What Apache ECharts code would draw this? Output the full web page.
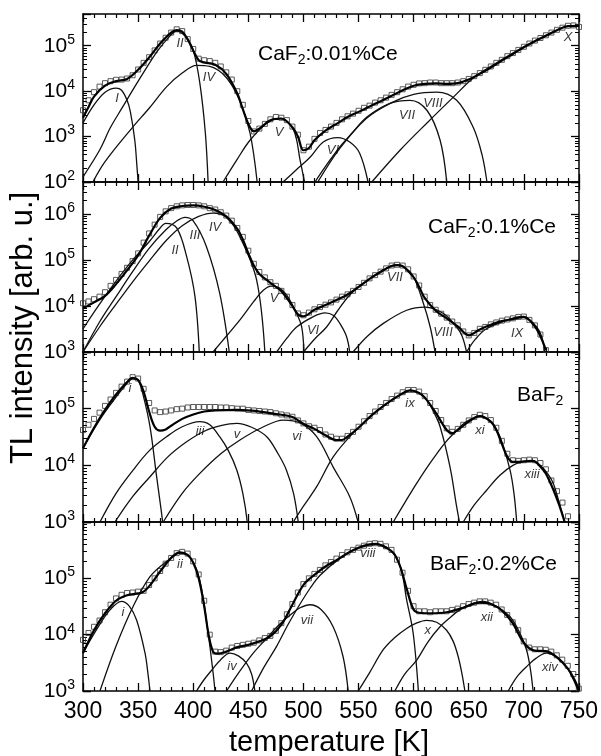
<!DOCTYPE html>
<html>
<head>
<meta charset="utf-8">
<script src="https://cdn.jsdelivr.net/npm/echarts@6/dist/echarts.min.js"></script>
<style>
  html, body { margin: 0; padding: 0; background: #fff; }
  #main { width: 601px; height: 756px; }
</style>
</head>
<body>
<div id="main"></div>
<script>
// ---- panel 1: CaF2:0.01%Ce ----
const p1Meas = [[300,3.8e3],[305,6.3e3],[310,9.5e3],[315,1.26e4],[320,1.5e4],[325,1.66e4],[330,1.78e4],[335,1.8e4],[340,1.9e4],[345,2.24e4],[350,3.0e4],[355,4.2e4],[360,5.6e4],[365,7.9e4],[370,1.12e5],[375,1.5e5],[380,1.95e5],[385,2.3e5],[390,2.1e5],[395,1.4e5],[400,8.5e4],[405,5.2e4],[410,4.8e4],[415,4.6e4],[420,4.2e4],[425,3.5e4],[430,2.6e4],[435,1.8e4],[440,1.0e4],[445,5.0e3],[450,2.2e3],[455,1.3e3],[460,1.5e3],[465,1.9e3],[470,2.4e3],[475,2.7e3],[480,2.6e3],[485,2.3e3],[490,1.66e3],[495,1.1e3],[500,5.0e2],[505,6.0e2],[510,8.9e2],[515,1.2e3],[520,1.4e3],[525,1.66e3],[530,2.0e3],[535,2.4e3],[540,2.8e3],[545,3.2e3],[550,3.7e3],[555,4.3e3],[560,4.8e3],[565,5.6e3],[570,6.3e3],[575,7.2e3],[580,8.3e3],[585,9.5e3],[590,1.1e4],[595,1.26e4],[600,1.38e4],[605,1.48e4],[610,1.5e4],[615,1.55e4],[620,1.55e4],[625,1.5e4],[630,1.5e4],[635,1.5e4],[640,1.55e4],[645,1.66e4],[650,1.86e4],[655,2.14e4],[660,2.5e4],[665,2.95e4],[670,3.5e4],[675,4.2e4],[680,4.9e4],[685,5.9e4],[690,6.9e4],[695,8.1e4],[700,9.5e4],[705,1.12e5],[710,1.3e5],[715,1.48e5],[720,1.7e5],[725,1.95e5],[730,2.24e5],[735,2.5e5],[740,2.75e5],[745,2.8e5],[750,2.6e5]];
const p1Fit = [[300,2.6e3],[305,4.5e3],[310,7.6e3],[320,1.32e4],[330,1.66e4],[340,1.86e4],[350,2.95e4],[360,5.5e4],[370,1.12e5],[380,1.95e5],[385,2.2e5],[390,2.05e5],[395,1.38e5],[400,7.9e4],[405,4.8e4],[410,4.3e4],[420,3.8e4],[430,2.4e4],[440,8.9e3],[445,4.0e3],[450,1.9e3],[455,1.3e3],[460,1.5e3],[470,2.3e3],[480,2.5e3],[490,1.6e3],[495,1.0e3],[500,5.0e2],[505,5.6e2],[510,8.3e2],[520,1.35e3],[530,1.9e3],[540,2.7e3],[550,3.5e3],[560,4.6e3],[570,6.0e3],[580,7.9e3],[590,1.05e4],[600,1.32e4],[610,1.45e4],[620,1.48e4],[630,1.45e4],[640,1.5e4],[650,1.8e4],[660,2.4e4],[670,3.3e4],[680,4.7e4],[690,6.6e4],[700,9.3e4],[710,1.26e5],[720,1.66e5],[730,2.2e5],[740,2.7e5],[750,2.75e5]];
const p1I = [[300,2.0e3],[310,5.0e3],[320,9.5e3],[330,1.17e4],[335,1.05e4],[340,6.3e3],[343,3.5e3],[347,8.3e2],[349,2.1e2],[350,100]];
const p1II = [[300,130],[315,5.0e2],[325,1.6e3],[336,4.5e3],[347,1.26e4],[358,3.4e4],[368,7.9e4],[377,1.45e5],[385,2.1e5],[393,1.6e5],[400,7.9e4],[406,1.5e4],[411,1.2e3],[413.5,100]];
const p1IV = [[309,100],[320,2.8e2],[345,1.6e3],[360,4.2e3],[376,1.26e4],[390,2.5e4],[403,3.7e4],[415,3.5e4],[430,2.0e4],[442,6.3e3],[451.5,1.2e3],[458,100]];
const p1V = [[427,100],[440,3.2e2],[451.5,8.3e2],[467,2.0e3],[479,2.5e3],[491,1.4e3],[497,3.0e2],[501,100]];
const p1VI = [[481.5,100],[495,2.0e2],[506,3.5e2],[518,7.6e2],[531,9.5e2],[542,7.6e2],[551,4.3e2],[558.6,100]];
const p1VII = [[510.5,100],[520,2.2e2],[533,5.9e2],[545,1.26e3],[557.6,2.7e3],[578.5,5.4e3],[596.7,6.3e3],[612,3.8e3],[624,8.3e2],[630,100]];
const p1VIII = [[513,100],[533,5.5e2],[557,2.5e3],[580,5.6e3],[600,8.5e3],[621,9.5e3],[639,6.3e3],[654,1.6e3],[662,4.0e2],[666.5,100]];
const p1X = [[562,100],[587.6,5.0e2],[613,2.1e3],[636,7.4e3],[654,1.95e4],[669,3.4e4],[690,6.9e4],[708,1.2e5],[726,2.0e5],[742,2.75e5],[750,2.75e5]];
const p1Labels = [[330.8,7.1e3,'I'],[388,1.12e5,'II'],[414.3,2.0e4,'IV'],[477.8,1.26e3,'V'],[526.8,5.0e2,'VI'],[594,3.0e3,'VII'],[617.5,5.5e3,'VIII'],[740,1.55e5,'X']];

// ---- panel 2: CaF2:0.1%Ce ----
const p2Meas = [[300,1.15e4],[305,1.26e4],[310,1.41e4],[315,1.6e4],[320,2.0e4],[325,2.75e4],[330,3.7e4],[335,5.0e4],[340,6.8e4],[345,9.5e4],[350,1.4e5],[355,2.4e5],[360,3.8e5],[365,5.9e5],[370,8.7e5],[375,1.15e6],[380,1.35e6],[385,1.48e6],[390,1.55e6],[395,1.58e6],[400,1.58e6],[405,1.55e6],[410,1.48e6],[415,1.35e6],[420,1.26e6],[425,1.1e6],[430,9.3e5],[435,7.2e5],[440,5.0e5],[445,3.2e5],[450,1.6e5],[455,8.3e4],[460,5.5e4],[465,4.2e4],[470,3.3e4],[475,2.75e4],[480,2.14e4],[485,1.6e4],[490,1.05e4],[495,6.9e3],[500,6.3e3],[505,7.2e3],[510,8.5e3],[515,9.5e3],[520,1.07e4],[525,1.2e4],[530,1.38e4],[535,1.6e4],[540,1.8e4],[545,2.14e4],[550,2.6e4],[555,3.2e4],[560,4.0e4],[565,4.7e4],[570,5.6e4],[575,6.6e4],[580,7.6e4],[585,7.9e4],[590,7.6e4],[595,6.3e4],[600,4.4e4],[605,2.8e4],[610,1.6e4],[615,1.05e4],[620,8.3e3],[625,6.8e3],[630,5.6e3],[635,4.6e3],[640,3.8e3],[645,2.8e3],[650,2.3e3],[655,2.6e3],[660,3.2e3],[665,3.5e3],[670,4.0e3],[675,4.4e3],[680,4.8e3],[685,5.1e3],[690,5.4e3],[695,5.8e3],[700,5.9e3],[705,5.0e3],[710,3.8e3],[715,2.4e3],[720,1.1e3]];
const p2Fit = [[300,8.9e3],[310,1.2e4],[320,1.66e4],[330,3.0e4],[340,6.0e4],[350,1.26e5],[360,3.4e5],[370,8.3e5],[380,1.32e6],[390,1.5e6],[400,1.55e6],[410,1.45e6],[420,1.23e6],[430,8.9e5],[440,4.8e5],[445,2.8e5],[450,1.4e5],[455,7.6e4],[460,5.0e4],[470,3.2e4],[480,2.1e4],[490,1.0e4],[495,6.6e3],[500,6.0e3],[510,8.3e3],[520,1.05e4],[530,1.35e4],[540,1.78e4],[550,2.6e4],[560,3.9e4],[570,5.5e4],[580,7.4e4],[585,7.8e4],[590,7.4e4],[600,4.2e4],[605,2.6e4],[610,1.5e4],[620,7.9e3],[630,5.4e3],[640,3.6e3],[650,2.3e3],[660,3.1e3],[670,3.9e3],[680,4.7e3],[690,5.2e3],[700,5.8e3],[710,3.6e3],[715,2.2e3],[720,1.1e3]];
const p2II = [[300,3.2e3],[315,1.1e4],[330,3.5e4],[345,1.0e5],[360,2.5e5],[370,5.0e5],[375,6.3e5],[385,5.0e5],[394,1.2e5],[401.6,1.6e4],[405.5,1000]];
const p2III = [[300,1000],[315,4.5e3],[330,1.6e4],[345,5.6e4],[360,1.8e5],[375,4.5e5],[385,7.1e5],[392.5,8.5e5],[400,7.1e5],[412,1.95e5],[424,1.9e4],[432.7,1000]];
const p2IV = [[300,1000],[315,3.5e3],[330,1.1e4],[345.6,3.5e4],[360,9.5e4],[375.7,2.7e5],[390,5.6e5],[405,8.9e5],[418,1.05e6],[430,8.5e5],[442.4,3.2e5],[457.5,3.7e4],[465,1000]];
const p2V = [[418,1000],[430,2.2e3],[442.4,5.0e3],[455,1.26e4],[463.6,2.2e4],[471,2.7e4],[478,2.5e4],[484.7,1.74e4],[493.8,6.9e3],[498.4,3.5e3],[500.5,1000]];
const p2VI = [[475.7,1000],[485,2.0e3],[493.8,3.5e3],[509,5.9e3],[519.6,7.1e3],[527,6.3e3],[533,4.2e3],[539,2.2e3],[542,1000]];
const p2VII = [[500,1000],[510,1.9e3],[521,3.5e3],[531,7.9e3],[542,1.74e4],[553,2.9e4],[563,4.4e4],[573,6.3e4],[583,7.8e4],[591,7.1e4],[599.7,4.4e4],[608.8,1.15e4],[615,3.5e3],[619.4,1000]];
const p2VIII = [[545,1000],[558,2.2e3],[572.5,4.2e3],[593.7,8.1e3],[610.3,9.5e3],[627,6.9e3],[639,3.5e3],[644,2.2e3],[648,1000]];
const p2IX = [[648,1000],[656,1.9e3],[666,3.2e3],[684.5,4.9e3],[696.5,5.9e3],[704,5.2e3],[711.6,3.5e3],[716,2.2e3],[719,1000]];
const p2Labels = [[383.5,1.66e5,'II'],[401.6,3.5e5,'III'],[419.8,5.2e5,'IV'],[473.3,1.5e4,'V'],[508.7,3.0e3,'VI'],[583,4.1e4,'VII'],[626.6,2.7e3,'VIII'],[693.8,2.6e3,'IX']];

// ---- panel 3: BaF2 ----
const p3Meas = [[300,4.2e4],[305,5.2e4],[310,6.6e4],[315,8.5e4],[320,1.12e5],[325,1.45e5],[330,1.9e5],[335,2.45e5],[340,3.0e5],[345,3.6e5],[350,3.4e5],[355,2.24e5],[360,1.26e5],[365,9.3e4],[370,8.7e4],[375,8.9e4],[380,9.3e4],[385,9.8e4],[390,1.0e5],[395,1.05e5],[400,1.07e5],[405,1.07e5],[410,1.07e5],[415,1.07e5],[420,1.07e5],[425,1.05e5],[430,1.05e5],[435,1.02e5],[440,1.0e5],[445,1.0e5],[450,9.5e4],[455,9.3e4],[460,9.1e4],[465,8.9e4],[470,8.7e4],[475,8.3e4],[480,7.9e4],[485,7.6e4],[490,7.2e4],[495,6.2e4],[500,5.5e4],[505,4.9e4],[510,4.6e4],[515,4.2e4],[520,3.5e4],[525,3.2e4],[530,2.95e4],[535,2.95e4],[540,3.3e4],[545,3.9e4],[550,4.8e4],[555,6.0e4],[560,7.4e4],[565,8.9e4],[570,1.07e5],[575,1.26e5],[580,1.48e5],[585,1.7e5],[590,1.95e5],[595,2.14e5],[600,2.14e5],[605,2.0e5],[610,1.66e5],[615,1.26e5],[620,9.1e4],[625,6.3e4],[630,4.5e4],[635,3.9e4],[640,4.4e4],[645,5.2e4],[650,6.2e4],[655,7.1e4],[660,7.8e4],[665,7.4e4],[670,6.3e4],[675,4.6e4],[680,2.7e4],[685,1.6e4],[690,1.23e4],[695,1.2e4],[700,1.23e4],[705,1.26e4],[710,1.23e4],[715,1.1e4],[720,8.5e3],[725,5.4e3],[730,3.5e3],[735,2.2e3],[740,1.26e3]];
const p3Fit = [[300,2.0e4],[310,4.6e4],[320,9.5e4],[330,1.78e5],[340,2.95e5],[345,3.5e5],[350,3.2e5],[355,2.0e5],[360,8.9e4],[365,4.8e4],[370,4.1e4],[375,4.3e4],[380,5.0e4],[390,6.6e4],[400,7.9e4],[410,8.9e4],[420,9.3e4],[440,9.5e4],[460,8.9e4],[480,7.8e4],[490,7.1e4],[500,5.4e4],[510,4.4e4],[520,3.4e4],[530,2.8e4],[535,2.8e4],[540,3.2e4],[550,4.6e4],[560,7.1e4],[570,1.02e5],[580,1.41e5],[590,1.86e5],[597,2.1e5],[605,1.9e5],[610,1.58e5],[620,8.5e4],[630,4.2e4],[635,3.7e4],[640,4.2e4],[650,5.9e4],[660,7.4e4],[670,5.9e4],[675,4.2e4],[680,2.4e4],[685,1.41e4],[690,1.15e4],[700,1.17e4],[708,1.2e4],[715,9.5e3],[720,7.1e3],[727,3.6e3],[732,2.0e3],[737,1000]];
const p3i = [[300,2.0e4],[315,6.3e4],[330,1.6e5],[340,2.8e5],[345,3.4e5],[350,3.2e5],[355,1.6e5],[360.8,4.8e4],[366.8,6.3e3],[370,2.2e3],[372.3,1000]];
const p3iii = [[315.4,1000],[330,3.2e3],[345.6,8.3e3],[360,1.8e4],[375.9,3.2e4],[390,4.8e4],[406,5.9e4],[415,5.2e4],[424,3.2e4],[432,1.8e4],[439.5,8.3e3],[445,3.2e3],[449,1000]];
const p3v = [[329,1000],[345,2.8e3],[360.8,6.3e3],[377,1.41e4],[394,2.6e4],[410,4.0e4],[425,5.0e4],[439.5,5.5e4],[453,4.7e4],[466.7,3.2e4],[477,1.6e4],[484.5,8.3e3],[491,3.2e3],[495.3,1000]];
const p3vi = [[372.8,1000],[390,3.2e3],[406,7.2e3],[425,1.6e4],[442.4,2.8e4],[462,4.6e4],[481.7,6.3e4],[497,5.6e4],[512,3.2e4],[527,9.3e3],[542,2.8e3],[549.6,1000]];
const p3ix = [[490.8,1000],[500,1.9e3],[512,4.2e3],[527,1.41e4],[545,3.7e4],[563,7.9e4],[581.5,1.48e5],[596.7,2.1e5],[605,1.86e5],[611.8,1.41e5],[618,8.9e4],[624,4.8e4],[633,9.3e3],[639,1.86e3],[641.5,1000]];
const p3xi = [[581.5,1000],[592,2.2e3],[602.7,4.8e3],[615,1.1e4],[627,2.3e4],[636,3.6e4],[648,5.9e4],[660,7.4e4],[670,5.9e4],[678.3,3.2e4],[687.4,8.3e3],[691,3.2e3],[693.5,1000]];
const p3xiii = [[645,1000],[655,2.0e3],[666,3.6e3],[678,6.6e3],[690,1.0e4],[700,1.17e4],[708.3,1.2e4],[716,9.5e3],[722,6.9e3],[726.7,4.8e3],[732,2.2e3],[737,1000]];
const p3Labels = [[342.6,2.3e5,'i'],[406.2,3.9e4,'iii'],[439.7,3.5e4,'v'],[494.2,3.2e4,'vi'],[596.7,1.26e5,'ix'],[660.2,4.2e4,'xi'],[707.4,6.8e3,'xiii']];

// ---- panel 4: BaF2:0.2%Ce ----
const p4Meas = [[300,8.1e3],[305,1.07e4],[310,1.38e4],[315,1.78e4],[320,2.5e4],[325,3.4e4],[330,4.4e4],[335,5.1e4],[340,5.5e4],[345,5.6e4],[350,5.8e4],[355,6.0e4],[360,7.6e4],[365,1.0e5],[370,1.35e5],[375,1.82e5],[380,2.3e5],[385,2.8e5],[390,2.95e5],[395,2.75e5],[400,2.0e5],[405,1.17e5],[410,4.0e4],[415,1.0e4],[420,5.0e3],[425,4.9e3],[430,5.2e3],[435,5.9e3],[440,6.3e3],[445,6.6e3],[450,6.9e3],[455,7.2e3],[460,7.9e3],[465,8.7e3],[470,9.5e3],[475,1.17e4],[480,1.6e4],[485,2.3e4],[490,3.5e4],[495,5.6e4],[500,7.9e4],[505,1.0e5],[510,1.2e5],[515,1.41e5],[520,1.7e5],[525,1.95e5],[530,2.24e5],[535,2.6e5],[540,2.9e5],[545,3.2e5],[550,3.5e5],[555,3.8e5],[560,4.1e5],[565,4.2e5],[570,4.1e5],[575,3.7e5],[580,3.2e5],[585,2.14e5],[590,1.26e5],[595,6.0e4],[600,3.2e4],[605,2.6e4],[610,2.6e4],[615,2.5e4],[620,2.6e4],[625,2.6e4],[630,2.6e4],[635,2.75e4],[640,2.9e4],[645,3.2e4],[650,3.5e4],[655,3.7e4],[660,3.9e4],[665,3.9e4],[670,3.7e4],[675,3.4e4],[680,2.8e4],[685,2.24e4],[690,1.66e4],[695,1.2e4],[700,7.6e3],[705,5.9e3],[710,5.5e3],[715,5.5e3],[720,5.4e3],[725,5.0e3],[730,4.3e3],[735,3.6e3],[740,2.8e3],[745,2.0e3],[750,1.1e3]];
const p4Fit = [[300,4.7e3],[310,1.2e4],[320,2.4e4],[330,4.0e4],[340,5.0e4],[350,5.4e4],[355,5.8e4],[360,7.2e4],[370,1.32e5],[380,2.3e5],[388,2.9e5],[395,2.6e5],[400,1.9e5],[405,1.0e5],[410,3.2e4],[414,1.0e4],[418,5.0e3],[422,4.6e3],[430,5.0e3],[440,6.0e3],[450,6.6e3],[460,7.6e3],[470,9.3e3],[480,1.5e4],[490,3.4e4],[500,7.6e4],[510,1.15e5],[520,1.62e5],[530,2.1e5],[540,2.8e5],[550,3.5e5],[560,4.0e5],[566,4.1e5],[575,3.5e5],[582,2.8e5],[588,1.6e5],[594,6.3e4],[600,2.8e4],[605,2.45e4],[615,2.4e4],[630,2.5e4],[645,3.0e4],[660,3.7e4],[670,3.5e4],[680,2.7e4],[690,1.6e4],[700,7.2e3],[710,5.2e3],[720,5.1e3],[730,4.0e3],[740,2.5e3],[746,1.6e3],[750,1.05e3]];
const p4i = [[300,4.7e3],[312,1.2e4],[324.5,2.75e4],[335,3.9e4],[342,3.2e4],[348.7,1.8e4],[356.3,4.7e3],[359,2.0e3],[360.8,1000]];
const p4ii = [[315.4,1000],[330,6.3e3],[345.6,3.2e4],[360.8,1.07e5],[375.9,2.0e5],[388,2.8e5],[398,2.24e5],[406,9.3e4],[413.6,1.05e4],[418.2,2.0e3],[419.8,1000]];
const p4iv = [[403,1000],[410,1.6e3],[418,2.5e3],[425,3.6e3],[433.4,4.7e3],[441,4.2e3],[448.5,3.1e3],[453,2.0e3],[456,1000]];
const p4vii = [[430.3,1000],[442,2.2e3],[454.5,4.7e3],[466,8.3e3],[478,1.5e4],[490,2.4e4],[497,3.0e4],[506,3.4e4],[516,2.8e4],[527,1.38e4],[536,4.1e3],[540.7,1000]];
const p4viii = [[453,1000],[464,2.6e3],[475.7,6.2e3],[486,1.5e4],[497,3.5e4],[506,6.6e4],[515,1.12e5],[533,2.24e5],[551,3.5e5],[566,4.0e5],[578,3.3e5],[588,1.6e5],[593.7,4.2e4],[599.7,1.05e4],[604.4,1000]];
const p4x = [[549.8,1000],[560,2.1e3],[572.5,5.4e3],[583,8.9e3],[593.7,1.29e4],[603,1.62e4],[611.8,1.8e4],[621,1.66e4],[630,1.2e4],[636,7.6e3],[640.5,4.1e3],[644,2.0e3],[646.6,1000]];
const p4xii = [[583,1000],[592,2.0e3],[602.7,3.5e3],[613,7.4e3],[624,1.38e4],[633,2.0e4],[642,2.75e4],[652,3.5e4],[663,3.9e4],[675,3.2e4],[687.4,2.1e4],[696,1.12e4],[702.5,5.4e3],[706,2.5e3],[708.5,1000]];
const p4xiv = [[685.9,1000],[694,1.8e3],[702.5,2.7e3],[711,3.8e3],[720.6,4.7e3],[730,4.0e3],[738.8,2.7e3],[745,1.6e3],[749.4,1000]];
const p4Labels = [[336.3,2.5e4,'i'],[388,1.74e5,'ii'],[435.2,2.7e3,'iv'],[503.2,1.8e4,'vii'],[558.6,2.8e5,'viii'],[613,1.2e4,'x'],[666.5,2.0e4,'xii'],[723.7,2.6e3,'xiv']];

// axis ranges / titles
const yMins = [1e2, 1e3, 1e3, 1e3];
const yMaxs = [5e5, 5e6, 1e6, 1e6];
const panelNames = ['{a|CaF}{s|2}{a|:0.01%Ce}', '{a|CaF}{s|2}{a|:0.1%Ce}', '{a|BaF}{s|2}', '{a|BaF}{s|2}{a|:0.2%Ce}'];

const panels = [
  { meas: p1Meas, fit: p1Fit, comps: [p1I, p1II, p1IV, p1V, p1VI, p1VII, p1VIII, p1X], labels: p1Labels },
  { meas: p2Meas, fit: p2Fit, comps: [p2II, p2III, p2IV, p2V, p2VI, p2VII, p2VIII, p2IX], labels: p2Labels },
  { meas: p3Meas, fit: p3Fit, comps: [p3i, p3iii, p3v, p3vi, p3ix, p3xi, p3xiii], labels: p3Labels },
  { meas: p4Meas, fit: p4Fit, comps: [p4i, p4ii, p4iv, p4vii, p4viii, p4x, p4xii, p4xiv], labels: p4Labels }
];

// layout
const FONT = '"Liberation Sans", Arial, sans-serif';
const gridTops = [14, 182, 352, 522];
const gridHeights = [168, 170, 170, 169];
const titlePos = [[258, 41], [428, 214], [517, 382], [430, 551]];

const chart = echarts.init(document.getElementById('main'));

const grid = [], xAxis = [], yAxis = [], series = [], title = [];
const lineCol = '#000';

function powLabel(v) {
  const e = Math.log10(v);
  if (Math.abs(e - Math.round(e)) > 1e-6) return '';
  return '{b|10}{s|' + Math.round(e) + '}';
}

panels.forEach(function (p, i) {
  grid.push({ left: 83, width: 496, top: gridTops[i], height: gridHeights[i] });

  const xCommon = {
    gridIndex: i, type: 'value', min: 300, max: 750, interval: 50,
    axisLine: { onZero: false, lineStyle: { color: lineCol, width: 1.5 } },
    axisTick: { inside: true, length: 8, lineStyle: { color: lineCol, width: 1.3 } },
    minorTick: { show: true, splitNumber: 5, length: 4, lineStyle: { color: lineCol, width: 1.2 } },
    splitLine: { show: false }
  };
  xAxis.push(Object.assign({}, xCommon, {
    position: 'bottom',
    axisLabel: { show: i === 3, color: '#000', fontSize: 23, fontFamily: FONT, margin: 9 }
  }));
  xAxis.push(Object.assign({}, xCommon, { position: 'top', axisLabel: { show: false } }));

  const yCommon = {
    gridIndex: i, type: 'log', logBase: 10, min: yMins[i], max: yMaxs[i],
    axisLine: { show: true, onZero: false, lineStyle: { color: lineCol, width: 1.5 } },
    axisTick: { show: true, inside: true, length: 8, lineStyle: { color: lineCol, width: 1.3 } },
    minorTick: { show: true, splitNumber: 9, length: 4, lineStyle: { color: lineCol, width: 1 } },
    splitLine: { show: false }
  };
  yAxis.push(Object.assign({}, yCommon, {
    position: 'left',
    axisLabel: {
      show: true, showMaxLabel: false, margin: 8, formatter: powLabel,
      rich: {
        b: { fontSize: 21, fontFamily: FONT, color: '#000' },
        s: { fontSize: 14, fontFamily: FONT, color: '#000', padding: [0, 0, 12, 0] }
      }
    }
  }));
  yAxis.push(Object.assign({}, yCommon, { position: 'right', axisLabel: { show: false } }));

  const xi = 2 * i, yi = 2 * i;
  series.push({
    type: 'scatter', xAxisIndex: xi, yAxisIndex: yi, data: p.meas,
    symbol: 'rect', symbolSize: 5, z: 2,
    itemStyle: { color: 'rgba(255,255,255,0)', borderColor: '#333', borderWidth: 1 }
  });
  p.comps.forEach(function (c) {
    series.push({
      type: 'line', xAxisIndex: xi, yAxisIndex: yi, data: c, showSymbol: false,
      smooth: 0.35, z: 3, lineStyle: { color: '#111', width: 1.3 }
    });
  });
  series.push({
    type: 'line', xAxisIndex: xi, yAxisIndex: yi, data: p.fit, showSymbol: false,
    smooth: 0.35, z: 4, lineStyle: { color: '#000', width: 2.2 }
  });
  series.push({
    type: 'scatter', xAxisIndex: xi, yAxisIndex: yi, data: p.labels, symbolSize: 1, z: 5,
    itemStyle: { color: 'rgba(0,0,0,0)' },
    label: {
      show: true, position: 'inside', formatter: function (d) { return d.data[2]; },
      fontStyle: 'italic', fontSize: 13, fontFamily: FONT, color: '#000'
    }
  });

  title.push({
    text: panelNames[i], left: titlePos[i][0], top: titlePos[i][1], padding: 0,
    textStyle: {
      fontWeight: 'normal',
      rich: {
        a: { fontSize: 21, fontWeight: 'normal', fontFamily: FONT, color: '#000' },
        s: { fontSize: 14, fontWeight: 'normal', fontFamily: FONT, color: '#000', padding: [12, 0, 0, 0] }
      }
    }
  });
});

chart.setOption({
  animation: false,
  backgroundColor: '#fff',
  title: title,
  grid: grid,
  xAxis: xAxis,
  yAxis: yAxis,
  series: series,
  graphic: [
    { type: 'text', x: 23, y: 328, rotation: Math.PI / 2,
      style: { text: 'TL intensity [arb. u.]', font: '31px "Liberation Sans", Arial', fill: '#000', align: 'center', verticalAlign: 'middle' } },
    { type: 'text', x: 329, y: 743,
      style: { text: 'temperature [K]', font: '29px "Liberation Sans", Arial', fill: '#000', align: 'center', verticalAlign: 'middle' } }
  ]
});
</script>
</body>
</html>
